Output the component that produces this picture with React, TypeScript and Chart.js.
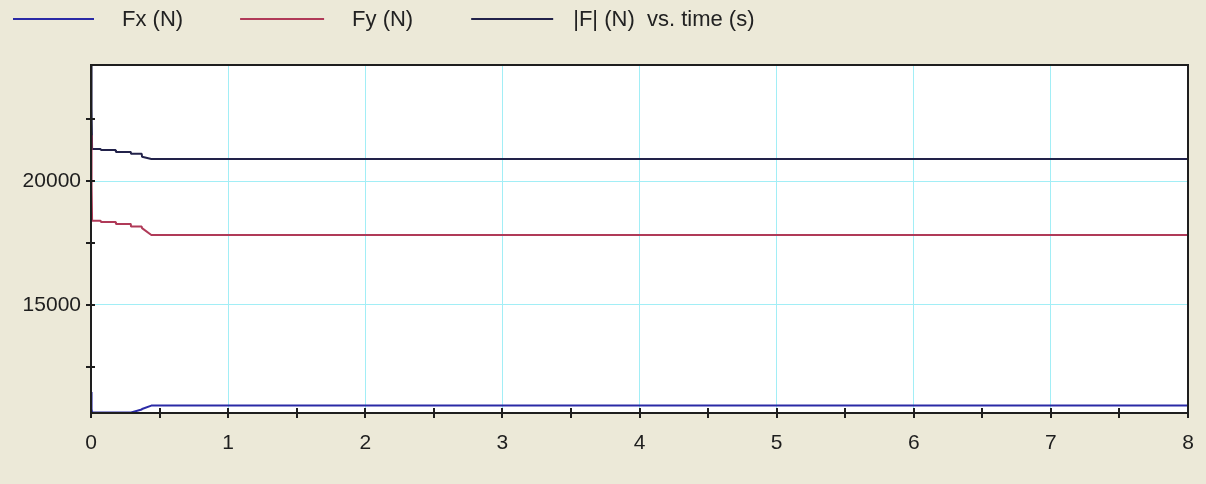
import React, { useEffect, useRef } from 'react';
import { Chart, registerables } from 'chart.js';

Chart.register(...registerables);

// ---- data ----
const timeS = [0, 0.004, 0.008, 0.07, 0.072, 0.18, 0.182, 0.29, 0.292, 0.37, 0.372, 0.44, 8];
const fxN = [11490, 10800, 10660, 10660, 10660, 10660, 10660, 10660, 10660, 10780, 10800, 10940, 10940];
const fyN = [21850, 19800, 18400, 18400, 18350, 18350, 18270, 18270, 18160, 18160, 18100, 17820, 17820];
const fMagN = [24680, 22950, 21290, 21290, 21250, 21250, 21170, 21170, 21100, 21100, 20980, 20890, 20890];

const seriesLabels = ['Fx (N)', 'Fy (N)', '|F| (N)  vs. time (s)'];
const seriesColors = ['#2a2aa6', '#b03a58', '#22224a'];

const xTickValues = [0, 0.5, 1, 1.5, 2, 2.5, 3, 3.5, 4, 4.5, 5, 5.5, 6, 6.5, 7, 7.5, 8];
const yTickValues = [12500, 15000, 17500, 20000, 22500];
const yMin = 10640;
const yMax = 24680;

const FONT = '"Liberation Sans", Arial, sans-serif';

// legend layout (sample line length, gap line->text, gap text->next)
const legendLineLen = [81, 84, 82];
const legendTextGap = [28, 28, 20];
const legendAfterGap = [57, 58, 0];

const chartDecor = {
  id: 'chartDecor',
  beforeDraw(chart: any) {
    const { ctx, chartArea: a } = chart;
    ctx.save();
    ctx.fillStyle = '#ffffff';
    ctx.fillRect(a.left, a.top, a.right - a.left, a.bottom - a.top);
    ctx.restore();
  },
  afterDraw(chart: any) {
    const { ctx, chartArea: a, scales } = chart;
    ctx.save();
    // frame
    ctx.strokeStyle = '#1e1e1e';
    ctx.lineWidth = 2;
    ctx.strokeRect(a.left, a.top, a.right - a.left, a.bottom - a.top);
    // tick marks crossing the axes
    ctx.beginPath();
    scales.x.ticks.forEach((t: any) => {
      const px = Math.round(scales.x.getPixelForValue(t.value));
      ctx.moveTo(px, a.bottom - 5);
      ctx.lineTo(px, a.bottom + 5);
    });
    scales.y.ticks.forEach((t: any) => {
      const py = Math.round(scales.y.getPixelForValue(t.value));
      ctx.moveTo(a.left - 5, py);
      ctx.lineTo(a.left + 4, py);
    });
    ctx.stroke();

    // legend across the top
    ctx.font = '22px ' + FONT;
    ctx.textBaseline = 'middle';
    ctx.textAlign = 'left';
    let x = 13;
    const y = 19;
    chart.data.datasets.forEach((ds: any, i: number) => {
      ctx.strokeStyle = ds.borderColor;
      ctx.lineWidth = 2;
      ctx.beginPath();
      ctx.moveTo(x, y);
      ctx.lineTo(x + legendLineLen[i], y);
      ctx.stroke();
      x += legendLineLen[i] + legendTextGap[i];
      ctx.fillStyle = '#222222';
      ctx.fillText(ds.label, x, y + 1);
      x += ctx.measureText(ds.label).width + legendAfterGap[i];
    });
    ctx.restore();
  },
};

export default function App() {
  const canvasRef = useRef<HTMLCanvasElement | null>(null);

  useEffect(() => {
    if (!canvasRef.current) return;
    const series = [fxN, fyN, fMagN];
    const chart = new Chart(canvasRef.current, {
      type: 'line',
      data: {
        datasets: series.map((vals, i) => ({
          label: seriesLabels[i],
          data: timeS.map((t, j) => ({ x: t, y: vals[j] })),
          borderColor: seriesColors[i],
          borderWidth: 2,
          borderJoinStyle: 'bevel' as const,
          pointRadius: 0,
          tension: 0,
          fill: false,
        })),
      },
      options: {
        animation: false,
        responsive: true,
        maintainAspectRatio: false,
        layout: { padding: { left: 0, right: 18, top: 65, bottom: 0 } },
        plugins: {
          legend: { display: false },
          tooltip: { enabled: false },
          title: { display: false },
        },
        scales: {
          x: {
            type: 'linear',
            min: 0,
            max: 8,
            afterBuildTicks: (scale: any) => {
              scale.ticks = xTickValues.map((v) => ({ value: v }));
            },
            afterFit: (scale: any) => {
              scale.height = 71;
              scale.paddingLeft = 0;
              scale.paddingRight = 0;
            },
            grid: {
              drawTicks: false,
              color: (c: any) =>
                c.tick && Number.isInteger(c.tick.value) && c.tick.value > 0 && c.tick.value < 8
                  ? '#a2eef6'
                  : 'rgba(0,0,0,0)',
              lineWidth: 1,
            },
            border: { display: false },
            ticks: {
              autoSkip: false,
              maxRotation: 0,
              padding: 18,
              color: '#1e1e1e',
              font: { family: FONT, size: 21 },
              callback: (v: any) => (Number.isInteger(v) ? String(v) : ''),
            },
          },
          y: {
            type: 'linear',
            min: yMin,
            max: yMax,
            afterBuildTicks: (scale: any) => {
              scale.ticks = yTickValues.map((v) => ({ value: v }));
            },
            afterFit: (scale: any) => {
              scale.width = 91;
              scale.paddingTop = 0;
              scale.paddingBottom = 0;
            },
            grid: {
              drawTicks: false,
              color: (c: any) =>
                c.tick && c.tick.value % 5000 === 0 ? '#a2eef6' : 'rgba(0,0,0,0)',
              lineWidth: 1,
            },
            border: { display: false },
            ticks: {
              autoSkip: false,
              padding: 10,
              color: '#1e1e1e',
              font: { family: FONT, size: 21 },
              callback: (v: any) => (v % 5000 === 0 ? String(v) : ''),
            },
          },
        },
      },
      plugins: [chartDecor],
    });
    return () => chart.destroy();
  }, []);

  return (
    <div
      style={{
        position: 'fixed',
        left: 0,
        top: 0,
        width: 1206,
        height: 484,
        background: '#ece9d8',
      }}
    >
      <canvas ref={canvasRef} />
    </div>
  );
}
